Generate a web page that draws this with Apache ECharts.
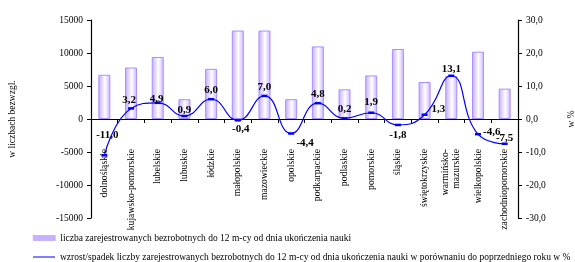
<html>
<head>
    <meta charset="utf-8">
    <title>ECharts</title>
    <script src="https://cdn.jsdelivr.net/npm/echarts@6/dist/echarts.min.js"></script>
</head>
<body style="margin:0;">
    <div id="main" style="width: 575px;height:262px;"></div>
    <script type="text/javascript">
        var myChart = echarts.init(document.getElementById('main'));

        // województwa
        var categories = ['dolnośląskie', 'kujawsko-pomorskie', 'lubelskie', 'lubuskie', 'łódzkie',
            'małopolskie', 'mazowieckie', 'opolskie', 'podkarpackie', 'podlaskie', 'pomorskie',
            'śląskie', 'świętokrzyskie', 'warmińsko-\nmazurskie', 'wielkopolskie', 'zachodniopomorskie'];
        // liczba bezrobotnych (słupki)
        var counts = [6700, 7800, 9400, 3000, 7600, 13400, 13400, 3000, 11000, 4500, 6600,
            10600, 5600, 6500, 10200, 4600];
        // zmiana w % (linia)
        var changes = [-11.0, 3.2, 4.9, 0.9, 6.0, -0.4, 7.0, -4.4, 4.8, 0.2, 1.9, -1.8, 1.3, 13.1, -4.6, -7.5];
        // pozycje etykiet linii
        var labelPos = ['top', 'top', 'top', 'top', 'top', 'bottom', 'top', 'bottom', 'top', 'top', 'top',
            'bottom', 'right', 'top', 'right', 'top'];

        var barName = 'liczba zarejestrowanych bezrobotnych do 12 m-cy od dnia ukończenia nauki';
        var lineName = 'wzrost/spadek liczby zarejestrowanych bezrobotnych do 12 m-cy od dnia ukończenia nauki w porównaniu do poprzedniego roku w %';

        var serif = '"Liberation Serif", "DejaVu Serif", serif';

        function fmtPct(v) {
            return v.toFixed(1).replace('.', ',');
        }

        // drobne przesunięcia etykiet
        var offsets = {
            0: [3, -11], 1: [-2, 0], 2: [-1, 5], 3: [0, 3], 5: [3, 0], 7: [14, 1], 10: [0, -2],
            11: [0, 1], 12: [-2, -6], 13: [0, 2], 14: [-4, -2], 15: [0, 3]
        };

        var lineData = changes.map(function (v, i) {
            return {
                value: v,
                label: {
                    position: labelPos[i],
                    distance: labelPos[i] === 'right' ? 6 : 2,
                    offset: offsets[i] || [0, 0]
                }
            };
        });

        var barGradient = new echarts.graphic.LinearGradient(0, 0, 1, 0, [
            { offset: 0, color: '#c4a8ff' },
            { offset: 0.55, color: '#ffffff' },
            { offset: 1, color: '#c9b0ff' }
        ]);

        var legendText = { fontFamily: serif, fontSize: 9.5, color: '#000' };

        option = {
            animation: false,
            textStyle: { fontFamily: serif },
            grid: { left: 91, right: 57, top: 20, bottom: 44, containLabel: false, outerBoundsMode: 'none' },
            legend: [{
                left: 28,
                top: 228,
                itemWidth: 22,
                itemHeight: 5,
                itemGap: 4,
                textStyle: legendText,
                data: [{ name: barName, icon: 'rect', itemStyle: { color: '#c7b0ff', borderColor: '#a98fff', borderWidth: 0.5 } }]
            }, {
                left: 28,
                top: 247,
                itemWidth: 22,
                itemHeight: 5,
                textStyle: legendText,
                data: [{ name: lineName, icon: 'path://M0,4.5L22,4.5L22,5.5L0,5.5Z' }]
            }],
            xAxis: {
                type: 'category',
                data: categories,
                axisLine: { onZero: true, lineStyle: { color: '#000', width: 1 } },
                axisTick: { show: true, alignWithLabel: false, length: 4, lineStyle: { color: '#000' } },
                axisLabel: {
                    rotate: 90,
                    margin: -69,
                    interval: 0,
                    fontFamily: serif,
                    fontSize: 9.7,
                    color: '#000',
                    lineHeight: 11
                }
            },
            yAxis: [{
                type: 'value',
                min: -15000,
                max: 15000,
                interval: 5000,
                name: 'w liczbach bezwzgl.',
                nameLocation: 'middle',
                nameRotate: 90,
                nameGap: 74,
                nameTextStyle: { fontFamily: serif, fontSize: 9.5, color: '#000' },
                axisLine: { show: true, lineStyle: { color: '#000', width: 1.2 } },
                axisTick: { show: true, length: 4, lineStyle: { color: '#000' } },
                splitLine: { show: false },
                axisLabel: {
                    fontFamily: serif, fontSize: 9.5, color: '#000', margin: 8,
                    formatter: function (v) { return String(v); }
                }
            }, {
                type: 'value',
                min: -30,
                max: 30,
                interval: 10,
                name: 'w %',
                nameLocation: 'middle',
                nameRotate: 90,
                nameGap: 48,
                nameTextStyle: { fontFamily: serif, fontSize: 9.5, color: '#000' },
                axisLine: { show: true, lineStyle: { color: '#000', width: 1.2 } },
                axisTick: { show: true, length: 4, lineStyle: { color: '#000' } },
                splitLine: { show: false },
                axisLabel: {
                    fontFamily: serif, fontSize: 9.5, color: '#000', margin: 8,
                    formatter: function (v) { return fmtPct(v); }
                }
            }],
            series: [{
                name: barName,
                type: 'bar',
                yAxisIndex: 0,
                data: counts,
                barWidth: 12,
                itemStyle: { color: barGradient, borderColor: '#a98fff', borderWidth: 1 }
            }, {
                name: lineName,
                type: 'line',
                yAxisIndex: 1,
                data: lineData,
                smooth: 0.5,
                symbol: 'rect',
                symbolSize: [6, 2.5],
                lineStyle: { color: '#0000ff', width: 1.2 },
                itemStyle: { color: '#0000ff' },
                label: {
                    show: true,
                    fontFamily: serif,
                    fontSize: 11,
                    fontWeight: 'bold',
                    color: '#000',
                    formatter: function (p) { return fmtPct(p.value); }
                },
                z: 5
            }]
        };

        myChart.setOption(option);
    </script>
</body>
</html>
